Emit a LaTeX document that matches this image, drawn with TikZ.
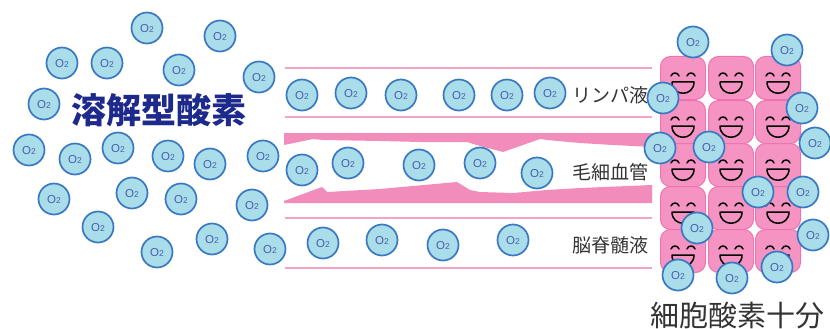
\documentclass[tikz,border=0pt]{standalone}
\usepackage{fontspec}
\setmainfont{Liberation Sans}
\newfontfamily\jpfont{Noto Sans CJK JP}
\usetikzlibrary{positioning}

\definecolor{oxyfill}{HTML}{A9DDE9}
\definecolor{oxyline}{HTML}{3A78C2}
\definecolor{oxytext}{HTML}{4B5EB0}
\definecolor{vessel}{HTML}{F28CBB}
\definecolor{vesselline}{HTML}{F6A3C8}
\definecolor{cellfill}{HTML}{F593C3}
\definecolor{celledge}{HTML}{EE74AF}
\definecolor{navy}{HTML}{1D2A8C}
\definecolor{labelgray}{HTML}{333333}

\tikzset{
  oxy/.style={circle, draw=oxyline, fill=oxyfill, line width=1.7pt, minimum size=31pt,
    inner sep=0pt, text=oxytext, font=\fontsize{11.5}{12}\selectfont, text depth=-3pt},
  wall/.style={draw=vesselline, line width=1.8pt},
  tissue/.style={font=\jpfont\fontsize{19}{19}\selectfont, text=labelgray},
  smile/.style={line width=1.5pt, line cap=round, line join=round},
  % one happy cell, y runs downwards here
  cell/.pic={
    \filldraw[fill=cellfill, draw=celledge, line width=1pt, rounded corners=10pt]
      (-22.5,-21.5) rectangle (22.5,21.5);
    \draw[smile] (-12,-2) .. controls (-11,-6) and (-5,-6) .. (-4,-2);
    \draw[smile] (4,-2) .. controls (5,-6) and (11,-6) .. (12,-2);
    \draw[smile] (-11,4) -- (11,4) .. controls (11,19) and (-11,19) .. (-11,4);
  }
}

\newcommand{\oxy}{O{\fontsize{8.5}{9}\selectfont 2}}

\begin{document}
\begin{tikzpicture}[x=1pt, y=-1pt]
\useasboundingbox (0,0) rectangle (830,329);

% lymph, capillary and spinal fluid channels
\draw[wall] (285,68) -- (652,68);
\draw[wall] (285,117) -- (652,117);
\draw[wall] (285,218) -- (652,218);
\draw[wall] (285,268) -- (652,268);
\fill[vessel] (284,133) -- (652,133) -- (652,147) -- (613,145) -- (580,143) -- (547,140)
  -- (540,139) -- (503,152) -- (480,146) -- (467,142) -- (420,142) -- (380,141)
  -- (323,140) -- (313,139) -- (284,145) -- cycle;
\fill[vessel] (284,203) -- (652,203) -- (652,185) -- (580,188) -- (547,190) -- (513,193)
  -- (480,192) -- (470,190) -- (457,182) -- (380,189) -- (327,192) -- (322,187)
  -- (284,201) -- cycle;

% tissue of cells
\foreach \c/\cx in {1/683,2/731,3/778}
  \foreach \r/\cy in {1/78,2/122,3/165,4/208,5/251}
    \pic (cell\c\r) at (\cx,\cy) {cell};

% dissolved oxygen on the left
\foreach \i/\p in {1/{147,28},2/{220,36},3/{62,63},4/{107,63},5/{179,70},6/{259,77},
    7/{44,104},8/{29,150},9/{75,159},10/{118,148},11/{168,156},12/{210,164},13/{263,156},
    14/{54,199},15/{132,193},16/{181,199},17/{252,205},18/{98,227},19/{157,252},
    20/{212,239},21/{270,249}}
  \node[oxy] (free\i) at (\p) {\oxy};

% oxygen carried in the channels
\foreach \i/\p in {1/{302,95},2/{351,93},3/{401,95},4/{459,95},5/{507,95},6/{550,93},
    7/{302,170},8/{348,163},9/{419,165},10/{480,163},11/{537,173},
    12/{323,243},13/{382,240},14/{443,245},15/{513,240}}
  \node[oxy] (flow\i) at (\p) {\oxy};

% oxygen reaching the cells
\foreach \i/\p in {1/{693,42},2/{787,50},3/{663,98},4/{802,108},5/{660,148},6/{709,147},
    7/{815,143},8/{758,192},9/{803,192},10/{697,228},11/{813,235},12/{777,267},
    13/{678,275},14/{732,278}}
  \node[oxy] (cellox\i) at (\p) {\oxy};

% labels
\node[text=navy, font=\jpfont\bfseries\fontsize{35}{35}\selectfont] (dissolved) at (159,110) {溶解型酸素};
\node[tissue] (lymph) at (610,95) {リンパ液};
\node[tissue] (capillary) at (610,172) {毛細血管};
\node[tissue] (csf) at (610,245) {脳脊髄液};
\node[text=labelgray, font=\jpfont\fontsize{29}{29}\selectfont] (enough) at (737,316) {細胞酸素十分};
\end{tikzpicture}
\end{document}
